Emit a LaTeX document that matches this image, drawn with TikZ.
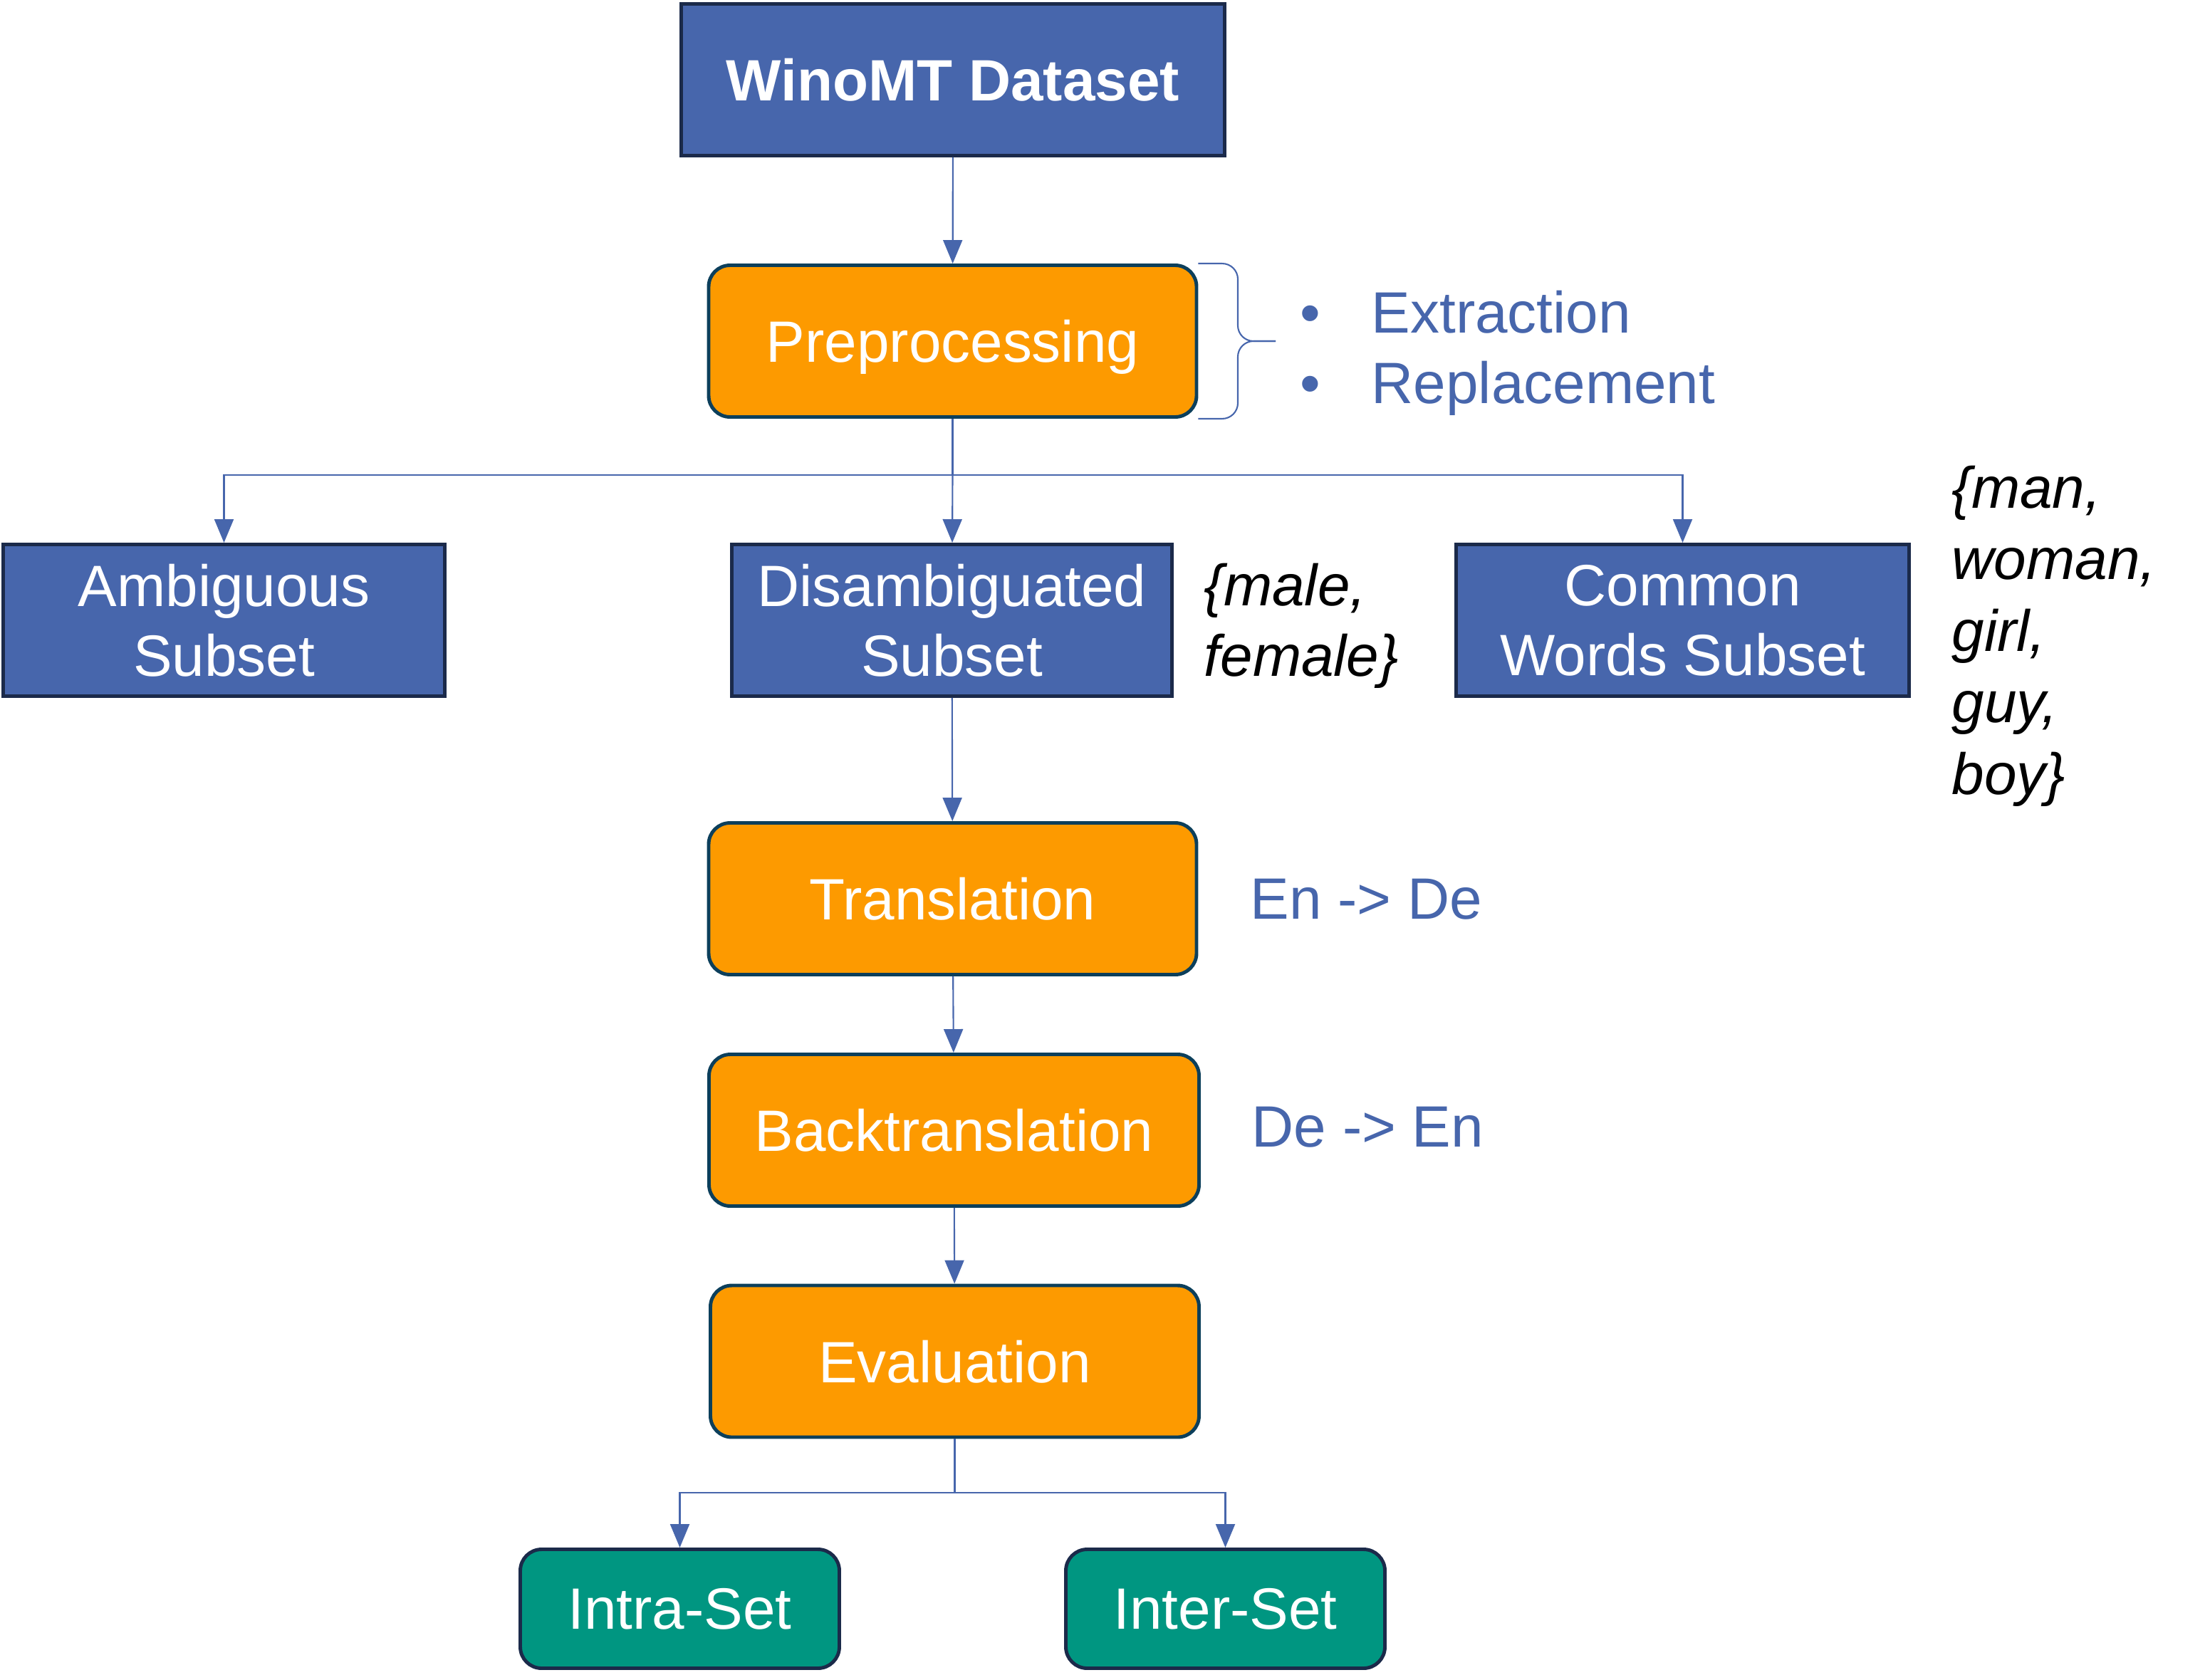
\documentclass[tikz,border=0pt]{standalone}
\usepackage{fontspec}
\setmainfont{Liberation Sans}
\usepackage{tikz}
\usepackage{xcolor}
\usetikzlibrary{shapes, positioning, arrows.meta}

\definecolor{boxblue}{HTML}{4766AC}
\definecolor{boxedge}{HTML}{1B2A4A}
\definecolor{procorange}{HTML}{FD9A00}
\definecolor{procedge}{HTML}{0C3F5B}
\definecolor{evalgreen}{HTML}{009681}
\definecolor{linkblue}{HTML}{4766AC}

\tikzset{
    every node/.style={font=\fontsize{23.3pt}{28pt}\selectfont},
    dataset/.style={draw=boxedge, fill=boxblue, line width=1.4pt, text=white, minimum height=2.13cm, align=center, inner sep=0pt},
    process/.style={draw=procedge, fill=procorange, line width=1.4pt, rounded corners=0.3cm, text=white, text depth=0pt, minimum width=6.85cm, minimum height=2.13cm},
    result/.style={draw=boxedge, fill=evalgreen, line width=1.4pt, rounded corners=0.3cm, text=white, minimum width=4.48cm, minimum height=1.67cm},
    link/.style={draw=linkblue, line width=0.6pt},
    arr/.style={link, -{Triangle[width=0.27cm, length=0.33cm]}},
    note/.style={text=linkblue, anchor=west, inner sep=0pt, align=left},
    words/.style={anchor=west, inner sep=0pt, align=left},
}

\begin{document}
\begin{tikzpicture}
        \useasboundingbox (0, 0) rectangle (31.03, -23.58);

        \node[dataset, minimum width=7.63cm, font=\fontsize{23.3pt}{28pt}\selectfont\bfseries] (data) at (13.38, -1.12) {WinoMT Dataset};
        \node[process] (prep) at (13.375, -4.79) {Preprocessing};
        \node[dataset, minimum width=6.2cm] (amb) at (3.145, -8.71) {Ambiguous\\Subset};
        \node[dataset, minimum width=6.18cm] (dis) at (13.365, -8.71) {Disambiguated\\Subset};
        \node[dataset, minimum width=6.36cm] (com) at (23.625, -8.71) {Common\\Words Subset};
        \node[process] (trans) at (13.375, -12.62) {Translation};
        \node[process, minimum width=6.88cm] (back) at (13.395, -15.87) {Backtranslation};
        \node[process, minimum width=6.86cm] (eval) at (13.405, -19.115) {Evaluation};
        \node[result] (intra) at (9.545, -22.59) {Intra-Set};
        \node[result] (inter) at (17.205, -22.59) {Inter-Set};

        \node[note] (steps) at (18.25, -4.96) {\makebox[1.0cm][l]{•}Extraction\\\makebox[1.0cm][l]{•}Replacement};
        \node[words] (gender) at (16.9, -8.79) {\itshape\{male,\\\itshape female\}};
        \node[words, font=\fontsize{23.3pt}{28.6pt}\selectfont] (common) at (27.4, -8.93) {\itshape\{man,\\\itshape woman,\\\itshape girl,\\\itshape guy,\\\itshape boy\}};
        \node[note] (ende) at (17.55, -12.63) {En -> De};
        \node[note] (deen) at (17.57, -15.83) {De -> En};

        \coordinate (split1) at (13.375, -6.67);
        \coordinate (split2) at (13.405, -20.96);

        \draw[arr] (data) -- (prep);
        \draw[link] (prep) -- (split1);
        \draw[arr] (split1) -| (amb.north);
        \draw[arr] (split1) -- (dis);
        \draw[arr] (split1) -| (com.north);
        \draw[arr] (dis) -- (trans);
        \draw[arr] (trans) -- (back);
        \draw[arr] (back) -- (eval);
        \draw[link] (eval) -- (split2);
        \draw[arr] (split2) -| (intra.north);
        \draw[arr] (split2) -| (inter.north);

        \draw[link, rounded corners=0.22cm] (prep.north east) -| (17.38, -4.79) -- (17.91, -4.79);
        \draw[link, rounded corners=0.22cm] (prep.south east) -| (17.38, -4.79) -- (17.91, -4.79);
    \end{tikzpicture}
\end{document}
